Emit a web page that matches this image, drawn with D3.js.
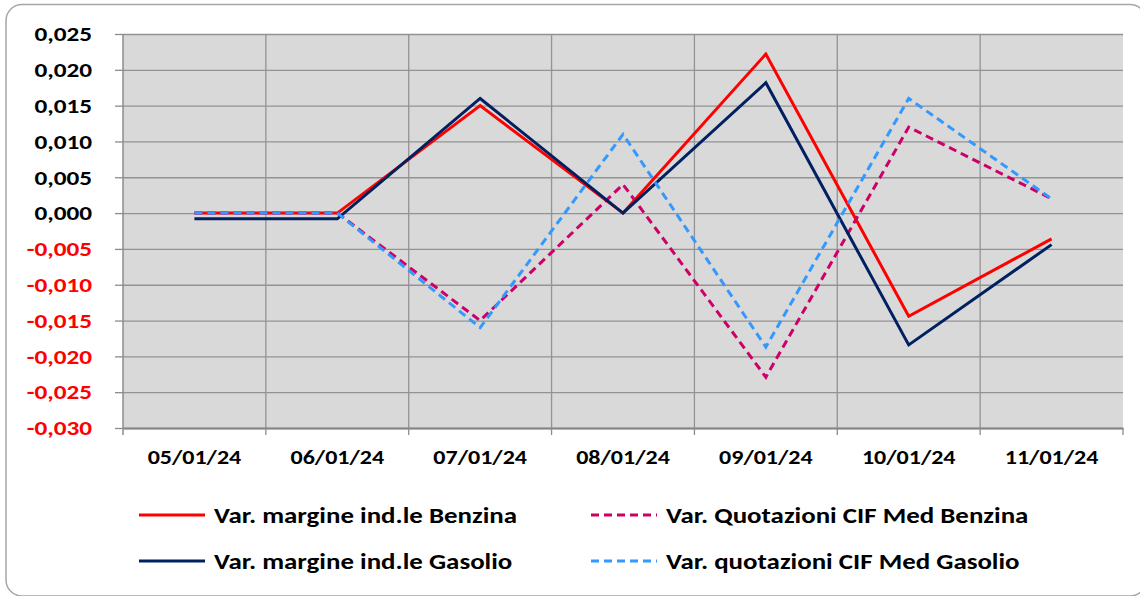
<!DOCTYPE html>
<html>
<head>
<meta charset="utf-8">
<script src="https://cdn.jsdelivr.net/npm/d3@7"></script>
<style>
  body { margin: 0; background: #fff; }
  text { font-family: Calibri, Carlito, Lato, sans-serif; font-weight: 700; }
</style>
</head>
<body>
<div id="chart"></div>
<script>
// data
var dates = ["05/01/24", "06/01/24", "07/01/24", "08/01/24", "09/01/24", "10/01/24", "11/01/24"];
var margineBenzina = [0, 0, 0.015, 0, 0.0222, -0.0144, -0.0036];
var margineGasolio = [-0.0008, -0.0008, 0.016, 0, 0.0182, -0.0184, -0.0044];
var quotBenzina = [0, 0, -0.015, 0.004, -0.0229, 0.012, 0.002];
var quotGasolio = [0, 0, -0.016, 0.011, -0.0187, 0.016, 0.002];
var yTicks = [0.025, 0.02, 0.015, 0.01, 0.005, 0, -0.005, -0.01, -0.015, -0.02, -0.025, -0.03];

var seriesNames = ["Var. margine ind.le Benzina", "Var. Quotazioni CIF Med Benzina",
  "Var. margine ind.le Gasolio", "Var. quotazioni CIF Med Gasolio"];
var seriesColors = ["#ff0000", "#cc0066", "#002060", "#3399ff"];
var seriesDash = [null, "8,5", null, "8,5"];
var seriesValues = [margineBenzina, quotBenzina, margineGasolio, quotGasolio];

var svgWidth = 1140;
var svgHeight = 596;
var margin = { top: 34, right: 17, bottom: 168, left: 123 };
var width = svgWidth - margin.left - margin.right;
var height = svgHeight - margin.top - margin.bottom;

var svg = d3.select("#chart")
  .append("svg")
  .attr("width", svgWidth)
  .attr("height", svgHeight);

// outer rounded frame (right side runs just past the edge)
svg.append("rect")
  .attr("x", 6)
  .attr("y", 4.5)
  .attr("width", 1140)
  .attr("height", 591.5)
  .attr("rx", 16)
  .attr("fill", "#fff")
  .attr("stroke", "#a6a6a6")
  .attr("stroke-width", 1.5);

var chartGroup = svg.append("g")
  .attr("transform", `translate(${margin.left}, ${margin.top})`);

var xScale = d3.scaleBand()
  .domain(dates)
  .range([0, width])
  .padding(0);

var yScale = d3.scaleLinear()
  .domain([-0.03, 0.025])
  .range([height, 0]);

chartGroup.append("rect")
  .attr("width", width)
  .attr("height", height)
  .attr("fill", "#d9d9d9");

// horizontal gridlines
chartGroup.append("g")
  .call(d3.axisLeft(yScale).tickValues(yTicks).tickSize(-width).tickFormat(""))
  .call(g => g.select(".domain").remove())
  .call(g => g.selectAll("line").attr("stroke", "#939393").attr("stroke-width", 1.3));

// vertical gridlines at category boundaries
var bounds = dates.slice(1).map(d => xScale(d));
chartGroup.selectAll(".vgrid")
  .data(bounds)
  .enter()
  .append("line")
  .attr("x1", d => d)
  .attr("x2", d => d)
  .attr("y1", 0)
  .attr("y2", height)
  .attr("stroke", "#939393")
  .attr("stroke-width", 1.3);

// y axis
var fmt = d3.format(".3f");
var leftAxis = d3.axisLeft(yScale)
  .tickValues(yTicks)
  .tickSize(8)
  .tickPadding(23)
  .tickFormat(d => fmt(d).replace(".", ",").replace("−", "-"));

chartGroup.append("g")
  .call(leftAxis)
  .call(g => g.select(".domain").attr("stroke", "#8c8c8c").attr("stroke-width", 1.5)
    .attr("d", `M0,0V${height + 7}`))
  .call(g => g.selectAll(".tick line").attr("stroke", "#8c8c8c").attr("stroke-width", 1.3))
  .call(g => g.selectAll(".tick text")
    .attr("class", "stretch")
    .attr("data-k", 1.2)
    .attr("font-size", 21)
    .attr("font-family", null)
    .attr("fill", d => d < 0 ? "#ff0000" : "#000"));

// x axis
var bottomAxis = d3.axisBottom(xScale).tickSize(0).tickPadding(22);
chartGroup.append("g")
  .attr("transform", `translate(0, ${height})`)
  .call(bottomAxis)
  .call(g => g.select(".domain").attr("stroke", "#868686").attr("stroke-width", 2))
  .call(g => g.selectAll(".tick text")
    .attr("class", "stretch")
    .attr("data-k", 1.2)
    .attr("font-size", 20)
    .attr("font-family", null)
    .attr("fill", "#000"));

chartGroup.selectAll(".xtick")
  .data(bounds.concat([width]))
  .enter()
  .append("line")
  .attr("x1", d => d)
  .attr("x2", d => d)
  .attr("y1", height)
  .attr("y2", height + 7)
  .attr("stroke", "#8c8c8c")
  .attr("stroke-width", 1.3);

// lines
var line = d3.line()
  .x((d, i) => xScale(dates[i]) + xScale.bandwidth() / 2)
  .y(d => yScale(d));

seriesValues.forEach(function(vals, k) {
  chartGroup.append("path")
    .datum(vals)
    .attr("d", line)
    .attr("fill", "none")
    .attr("stroke", seriesColors[k])
    .attr("stroke-width", 3)
    .attr("stroke-dasharray", seriesDash[k]);
});

// legend
var legendX = [139, 591];
var legendY = [515, 561];
var legend = svg.append("g");
seriesNames.forEach(function(name, k) {
  var lx = legendX[k % 2];
  var ly = legendY[Math.floor(k / 2)];
  legend.append("line")
    .attr("x1", lx)
    .attr("x2", lx + 66)
    .attr("y1", ly)
    .attr("y2", ly)
    .attr("stroke", seriesColors[k])
    .attr("stroke-width", 3)
    .attr("stroke-dasharray", seriesDash[k]);
  legend.append("text")
    .attr("class", "stretch")
    .attr("data-k", 1.17)
    .attr("x", lx + 75)
    .attr("y", ly)
    .attr("dy", "0.35em")
    .attr("font-size", 23)
    .attr("fill", "#000")
    .text(name);
});

// the original lettering is wider than the fallback font, so widen it a bit
svg.selectAll("text.stretch").each(function() {
  var t = d3.select(this);
  var w = this.getComputedTextLength() * (+t.attr("data-k"));
  t.attr("textLength", w).attr("lengthAdjust", "spacingAndGlyphs");
});
</script>
</body>
</html>
